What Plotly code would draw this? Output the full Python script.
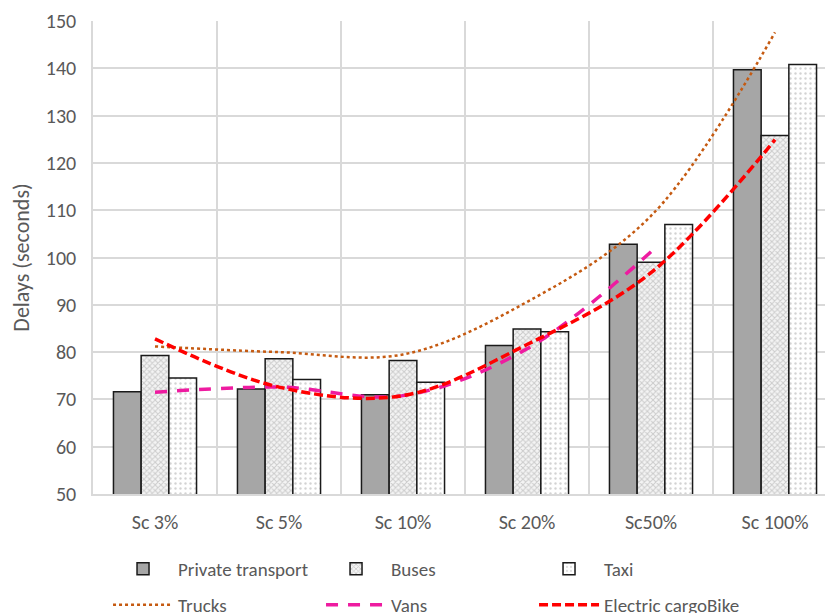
import plotly.graph_objects as go

categories = ["Sc 3%", "Sc 5%", "Sc 10%", "Sc 20%", "Sc50%", "Sc 100%"]
private_transport = [71.6, 72.2, 71.0, 81.4, 102.8, 139.7]
buses = [79.3, 78.6, 78.2, 84.9, 99.0, 125.8]
taxi = [74.5, 74.2, 73.6, 84.3, 107.0, 140.8]
trucks = [81.2, 80.0, 79.5, 90.6, 108.8, 147.6]
vans_cats = ["Sc 3%", "Sc 5%", "Sc 10%", "Sc 20%", "Sc50%"]
vans = [71.5, 72.6, 70.8, 80.7, 101.2]
ecargobike = [82.8, 72.6, 70.8, 81.6, 96.8, 124.9]

FONT = "Calibri, Carlito, Lato, sans-serif"
TXT = "#595959"

fig = go.Figure()
fig.add_trace(go.Bar(
    x=categories, y=private_transport, name="Private transport",
    marker=dict(color="#a6a6a6", line=dict(color="#1a1a1a", width=1.5)),
    legend="legend"))
fig.add_trace(go.Bar(
    x=categories, y=buses, name="Buses",
    marker=dict(color="#dcdcdc", line=dict(color="#1a1a1a", width=1.5),
                pattern=dict(shape="x", fgcolor="#a3a3a3", bgcolor="#f4f4f4",
                             size=4, solidity=0.45)),
    legend="legend"))
fig.add_trace(go.Bar(
    x=categories, y=taxi, name="Taxi",
    marker=dict(color="#ffffff", line=dict(color="#1a1a1a", width=1.5),
                pattern=dict(shape=".", fgcolor="#a8a8a8", bgcolor="#ffffff",
                             size=5, solidity=0.18)),
    legend="legend"))

fig.add_trace(go.Scatter(
    x=categories, y=trucks, name="Trucks", mode="lines",
    line=dict(color="#c55a11", width=2.5, dash="dot", shape="spline", smoothing=1.0),
    legend="legend2"))
fig.add_trace(go.Scatter(
    x=vans_cats, y=vans, name="Vans", mode="lines",
    line=dict(color="#ee1ba0", width=3.5, dash="12px,10px", shape="spline", smoothing=1.0),
    legend="legend2"))
fig.add_trace(go.Scatter(
    x=categories, y=ecargobike, name="Electric cargoBike", mode="lines",
    line=dict(color="#ff0000", width=3.5, dash="9px,4px", shape="spline", smoothing=1.0),
    legend="legend2"))

leg_common = dict(orientation="h", x=0.0202, xanchor="left", yanchor="middle",
                  entrywidth=138, entrywidthmode="pixels", itemwidth=60,
                  font=dict(size=19, color=TXT, family=FONT), bgcolor="rgba(0,0,0,0)",
                  traceorder="normal", itemclick=False)

fig.update_layout(
    width=833, height=613,
    margin=dict(l=85, r=4, t=13, b=127, autoexpand=False),
    paper_bgcolor="white", plot_bgcolor="white",
    font=dict(family=FONT, color=TXT, size=20),
    barmode="group", bargap=0.33, bargroupgap=0,
    showlegend=True,
    legend=dict(y=-0.1586, **leg_common),
    legend2=dict(y=-0.2347, **leg_common),
)
fig.update_xaxes(
    type="category", categoryorder="array", categoryarray=categories,
    range=[-0.5, 5.5], tickson="boundaries", showgrid=True, gridcolor="#d9d9d9",
    gridwidth=1.5, ticks="", showline=True, linecolor="#d9d9d9", linewidth=1.5,
    tickfont=dict(size=20, color=TXT, family=FONT), zeroline=False, automargin=False,
    ticklabelstandoff=9,
)
fig.update_yaxes(
    range=[50, 150], dtick=10, showgrid=True, gridcolor="#d9d9d9", gridwidth=1.5,
    showline=True, linecolor="#d9d9d9", linewidth=1.5, ticks="", zeroline=False,
    tickfont=dict(size=20, color=TXT, family=FONT), automargin=False,
    ticklabelstandoff=11,
    title=dict(text="Delays (seconds)", font=dict(size=22, color=TXT, family=FONT),
               standoff=14),
)

fig.write_html("out.html")
